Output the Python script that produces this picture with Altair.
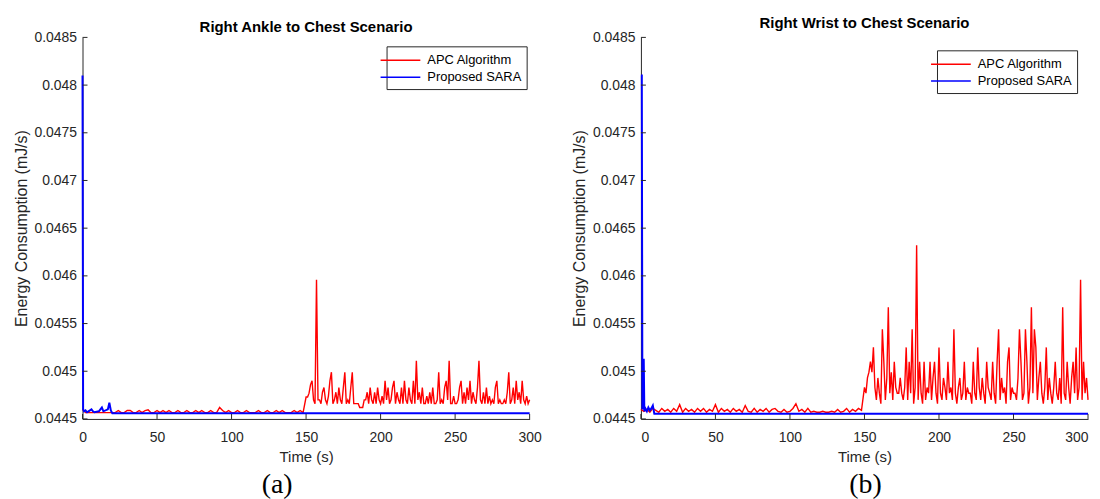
import altair as alt
import pandas as pd

SERIES = ["APC Algorithm", "Proposed SARA"]
COLORS = ["#ff0000", "#0000ff"]
X_TICKS = [0, 50, 100, 150, 200, 250, 300]
Y_TICKS = [0.0445, 0.045, 0.0455, 0.046, 0.0465, 0.047, 0.0475, 0.048, 0.0485]

TIME_LOW = list(range(0, 150, 2))
TIME_HIGH = list(range(150, 301))

# ---------- (a) Right Ankle to Chest ----------
apc_a_low = [
    0.04460, 0.044566, 0.044566, 0.044566, 0.044566, 0.044566, 0.044566, 0.044566, 0.044566, 0.044566,
    0.044566, 0.044566, 0.044588, 0.044566, 0.044566, 0.044588, 0.044588, 0.044566, 0.044566, 0.044588,
    0.044566, 0.044588, 0.044595, 0.044566, 0.044566, 0.044588, 0.044566, 0.044588, 0.044566, 0.044588,
    0.044566, 0.044566, 0.044588, 0.044566, 0.044566, 0.044588, 0.044566, 0.044566, 0.044588, 0.044566,
    0.044588, 0.044566, 0.044566, 0.044588, 0.044566, 0.044566, 0.04462, 0.044588, 0.044566, 0.044588,
    0.044566, 0.044566, 0.044588, 0.044566, 0.044566, 0.044588, 0.044566, 0.044566, 0.044566, 0.044588,
    0.044566, 0.044566, 0.044588, 0.044566, 0.044566, 0.044588, 0.044566, 0.044588, 0.044566, 0.044566,
    0.044566, 0.044588, 0.044566, 0.044588, 0.044566,
]
apc_a_high = [
    0.04473, 0.04473, 0.04477, 0.04486, 0.04490, 0.04470, 0.04466, 0.04596, 0.04470, 0.04470,  # 150
    0.04466, 0.04478, 0.04483, 0.04470, 0.04466, 0.04474, 0.04490, 0.04499, 0.04466, 0.04470,  # 160
    0.04478, 0.04466, 0.04483, 0.04470, 0.04466, 0.04483, 0.04499, 0.04466, 0.04470, 0.04466,  # 170
    0.04483, 0.04499, 0.04466, 0.04466, 0.04466, 0.04466, 0.04462, 0.04462, 0.04462, 0.04470,  # 180
    0.04470, 0.04478, 0.04466, 0.04483, 0.04470, 0.04466, 0.04478, 0.04466, 0.04483, 0.04470,  # 190
    0.04466, 0.04474, 0.04466, 0.04490, 0.04470, 0.04483, 0.04466, 0.04470, 0.04483, 0.04490,  # 200
    0.04466, 0.04478, 0.04470, 0.04466, 0.04483, 0.04466, 0.04490, 0.04470, 0.04466, 0.04483,  # 210
    0.04470, 0.04466, 0.04490, 0.04466, 0.04511, 0.04470, 0.04478, 0.04466, 0.04483, 0.04466,  # 220
    0.04466, 0.04474, 0.04466, 0.04478, 0.04466, 0.04483, 0.04466, 0.04466, 0.04470, 0.04499,  # 230
    0.04466, 0.04470, 0.04466, 0.04483, 0.04490, 0.04470, 0.04511, 0.04466, 0.04466, 0.04474,  # 240
    0.04466, 0.04466, 0.04470, 0.04483, 0.04490, 0.04466, 0.04478, 0.04466, 0.04483, 0.04470,  # 250
    0.04490, 0.04466, 0.04478, 0.04470, 0.04466, 0.04483, 0.04511, 0.04470, 0.04466, 0.04478,  # 260
    0.04466, 0.04483, 0.04466, 0.04474, 0.04466, 0.04470, 0.04466, 0.04483, 0.04490, 0.04466,  # 270
    0.04470, 0.04466, 0.04466, 0.04470, 0.04466, 0.04478, 0.04499, 0.04466, 0.04470, 0.04483,  # 280
    0.04466, 0.04490, 0.04470, 0.04478, 0.04466, 0.04490, 0.04470, 0.04466, 0.04474, 0.04466,  # 290
    0.04470,                                                                                   # 300
]
sara_a_t = [0, 0.4, 1, 2, 3, 4, 5, 6, 7, 8, 11, 12, 13, 14, 17, 18, 19, 20, 300]
sara_a_v = [0.04810, 0.04460, 0.04458, 0.04459, 0.04457, 0.04458, 0.04459, 0.04460, 0.04458,
            0.04457, 0.04458, 0.04460, 0.04462, 0.04458, 0.04460, 0.04467, 0.04459, 0.04456, 0.04456]

# ---------- (b) Right Wrist to Chest ----------
apc_b_low = [
    0.04460, 0.04458, 0.04460, 0.04457, 0.04461, 0.04459, 0.04457, 0.04461, 0.04458, 0.04460,
    0.04457, 0.04461, 0.04458, 0.04465, 0.04457, 0.04461, 0.04458, 0.04460, 0.04457, 0.04461,
    0.04458, 0.04461, 0.04457, 0.04460, 0.04458, 0.04465, 0.04457, 0.04461, 0.04458, 0.04460,
    0.04457, 0.04461, 0.04458, 0.04460, 0.04457, 0.04464, 0.04458, 0.04457, 0.04461, 0.04457,
    0.04460, 0.04458, 0.04461, 0.04457, 0.04460, 0.04461, 0.04458, 0.04457, 0.04460, 0.04457,
    0.04458, 0.04461, 0.04466, 0.04458, 0.04460, 0.04457, 0.04461, 0.04457, 0.04458, 0.04457,
    0.04457, 0.04458, 0.04457, 0.04457, 0.04458, 0.04457, 0.04460, 0.04457, 0.04458, 0.04461,
    0.04457, 0.04460, 0.04458, 0.04461, 0.04459,
]
apc_b_high = [
    0.04483, 0.04477, 0.04493, 0.04499, 0.04510, 0.04499, 0.04525, 0.04483, 0.04470, 0.04493,  # 150
    0.04477, 0.04466, 0.04544, 0.04510, 0.04470, 0.04493, 0.04567, 0.04477, 0.04499, 0.04470,  # 160
    0.04510, 0.04483, 0.04477, 0.04477, 0.04493, 0.04477, 0.04470, 0.04483, 0.04525, 0.04470,  # 170
    0.04510, 0.04477, 0.04544, 0.04466, 0.04483, 0.04632, 0.04470, 0.04510, 0.04477, 0.04466,  # 180
    0.04510, 0.04470, 0.04483, 0.04477, 0.04510, 0.04470, 0.04493, 0.04510, 0.04477, 0.04466,  # 190
    0.04525, 0.04477, 0.04470, 0.04493, 0.04483, 0.04470, 0.04510, 0.04477, 0.04483, 0.04470,  # 200
    0.04544, 0.04477, 0.04466, 0.04483, 0.04493, 0.04470, 0.04477, 0.04510, 0.04470, 0.04483,  # 210
    0.04477, 0.04477, 0.04466, 0.04510, 0.04477, 0.04470, 0.04525, 0.04483, 0.04470, 0.04493,  # 220
    0.04477, 0.04466, 0.04510, 0.04483, 0.04477, 0.04470, 0.04510, 0.04477, 0.04466, 0.04510,  # 230
    0.04544, 0.04470, 0.04493, 0.04477, 0.04483, 0.04466, 0.04510, 0.04525, 0.04470, 0.04483,  # 240
    0.04477, 0.04477, 0.04470, 0.04493, 0.04544, 0.04510, 0.04470, 0.04477, 0.04544, 0.04510,  # 250
    0.04466, 0.04483, 0.04567, 0.04477, 0.04544, 0.04525, 0.04470, 0.04493, 0.04510, 0.04477,  # 260
    0.04466, 0.04483, 0.04525, 0.04470, 0.04493, 0.04477, 0.04466, 0.04483, 0.04510, 0.04477,  # 270
    0.04470, 0.04493, 0.04466, 0.04567, 0.04477, 0.04470, 0.04510, 0.04483, 0.04466, 0.04493,  # 280
    0.04510, 0.04477, 0.04525, 0.04470, 0.04483, 0.04596, 0.04470, 0.04510, 0.04477, 0.04493,  # 290
    0.04470,                                                                                   # 300
]
sara_b_t = [0, 0.6, 1.0, 1.3, 1.9, 2.3, 3, 4, 5, 6, 7, 8, 9, 300]
sara_b_v = [0.04810, 0.04810, 0.04460, 0.04512, 0.04512, 0.04458, 0.04461, 0.04458, 0.04462,
            0.04459, 0.04461, 0.04464, 0.044555, 0.044555]

W, H = 450, 384
AXIS_COLOR = "#262626"


def panel(title, apc_low, apc_high, s_t, s_v, legend_x, legend_y, title_offset,
          caption, caption_dx, flush):
    red = pd.DataFrame({"t": TIME_LOW + TIME_HIGH, "v": apc_low + apc_high, "s": SERIES[0]})
    blue = pd.DataFrame({"t": s_t, "v": s_v, "s": SERIES[1]})
    xs = alt.Scale(domain=[0, 300], nice=False, zero=False)
    ys = alt.Scale(domain=[0.0445, 0.0485], nice=False, zero=False)
    x_axis = alt.Axis(values=X_TICKS, format="d", labelPadding=12, titlePadding=5, titleFontSize=15,
                      labelFlush=flush)
    y_axis = alt.Axis(values=Y_TICKS, format="~g", labelPadding=6, titlePadding=5, titleFontSize=16,
                      labelFlush=False)
    x_enc = alt.X("t:Q", scale=xs, title="Time (s)", axis=x_axis)
    y_enc = alt.Y("v:Q", scale=ys, title="Energy Consumption (mJ/s)", axis=y_axis)
    color = alt.Color(
        "s:N",
        scale=alt.Scale(domain=SERIES, range=COLORS),
        legend=alt.Legend(
            title=None, orient="none", legendX=legend_x, legendY=legend_y,
            symbolType="M-2.5,0H2.5", symbolSize=256, symbolStrokeWidth=1.5,
            labelFontSize=13, labelColor="black", labelFont="Liberation Sans",
            strokeColor=AXIS_COLOR, fillColor="white", padding=5, rowPadding=1,
            labelOffset=18,
        ),
    )
    apc = alt.Chart(red).mark_line(strokeWidth=1.4).encode(x=x_enc, y=y_enc, color=color, order="t:Q")
    sara = alt.Chart(blue).mark_line(strokeWidth=2).encode(x=x_enc, y=y_enc, color="s:N", order="t:Q")
    xt = alt.Chart(pd.DataFrame({"t": X_TICKS})).mark_rule(color=AXIS_COLOR, strokeWidth=1).encode(
        x=x_enc, y=alt.value(H), y2=alt.value(H - 5))
    yt = alt.Chart(pd.DataFrame({"v": Y_TICKS})).mark_rule(color=AXIS_COLOR, strokeWidth=1).encode(
        y=y_enc, x=alt.value(0), x2=alt.value(5))
    layered = alt.layer(apc, sara, xt, yt).properties(
        width=W, height=H,
        title=alt.TitleParams(title, fontSize=15, fontWeight="bold", font="Liberation Sans",
                              color="black", anchor="middle", frame="group",
                              offset=title_offset),
    )
    return alt.vconcat(layered, title=alt.TitleParams(
        caption, orient="bottom", font="Liberation Serif", fontSize=28, fontWeight="normal",
        color="black", anchor="middle", offset=7, dx=caption_dx))


pa = panel("Right Ankle to Chest Scenario", apc_a_low, apc_a_high, sara_a_t, sara_a_v,
           306, 9, -4.5, "(a)", 0, False)
pb = panel("Right Wrist to Chest Scenario", apc_b_low, apc_b_high, sara_b_t, sara_b_v,
           298, 13, -0.5, "(b)", 34, True)

chart = alt.hconcat(pa, pb, spacing=30).resolve_scale(color="independent").resolve_legend(
    color="independent"
).properties(
    padding={"left": 5, "top": 6, "right": 0, "bottom": 0}
).configure(font="Liberation Sans").configure_view(stroke=None).configure_axis(
    domainColor=AXIS_COLOR, labelColor=AXIS_COLOR, titleColor=AXIS_COLOR, tickSize=0,
    labelFontSize=14, labelFont="Liberation Sans", titleFont="Liberation Sans",
    titleFontWeight="normal", grid=False, domainWidth=1,
)

chart.save("out.html", embed_options={"renderer": "svg", "actions": False})
